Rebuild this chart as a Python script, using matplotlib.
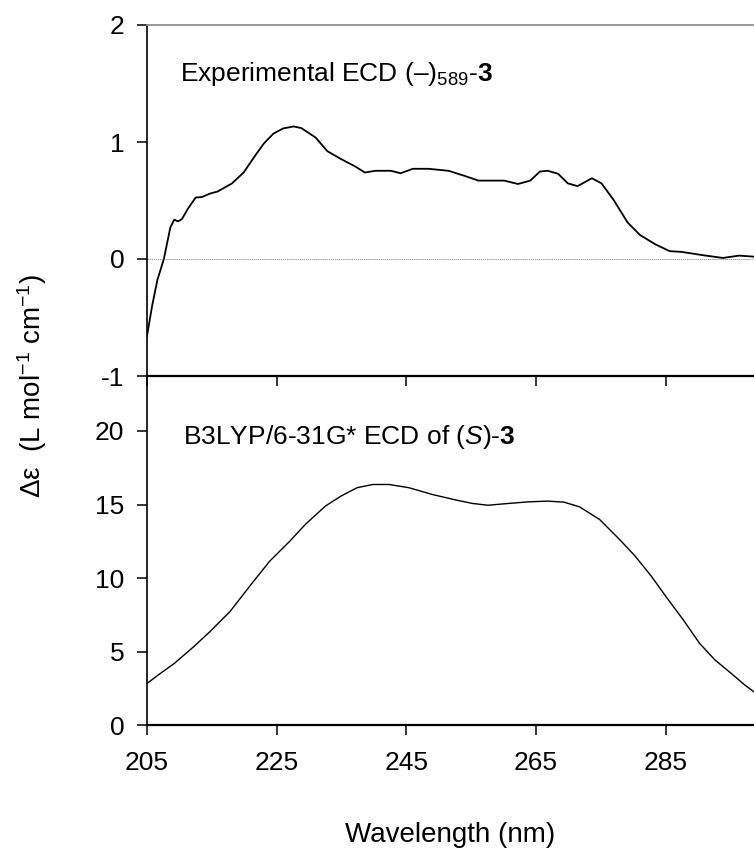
import matplotlib
matplotlib.use("Agg")
import matplotlib.pyplot as plt

plt.rcParams['font.family'] = ['Liberation Sans', 'DejaVu Sans']
plt.rcParams['mathtext.fontset'] = 'custom'
plt.rcParams['mathtext.rm'] = 'Liberation Sans'
plt.rcParams['mathtext.it'] = 'Liberation Sans:italic'
plt.rcParams['mathtext.bf'] = 'Liberation Sans:bold'
plt.rcParams['axes.unicode_minus'] = False

# experimental ECD (top panel)
exp_nm = [205.0, 205.8, 206.6, 207.6, 208.6, 209.2, 209.8, 210.4, 211.3, 212.5,
          213.5, 214.7, 215.9, 218.1, 219.9, 221.8, 223.0, 224.5, 226.0, 227.6,
          228.8, 231.0, 232.8, 234.9, 237.1, 238.6, 240.2, 242.6, 244.1, 246.0,
          248.4, 251.5, 254.0, 256.1, 260.1, 262.2, 264.1, 265.6, 266.8, 268.4,
          269.9, 271.4, 273.6, 275.1, 277.0, 279.1, 281.0, 283.4, 285.6, 287.4,
          290.8, 293.8, 296.3, 298.6]
exp_de = [-0.658, -0.397, -0.180, 0.0, 0.270, 0.336, 0.322, 0.342, 0.429, 0.525,
          0.530, 0.559, 0.577, 0.646, 0.739, 0.893, 0.986, 1.072, 1.116, 1.133,
          1.119, 1.038, 0.922, 0.855, 0.791, 0.739, 0.754, 0.754, 0.733, 0.771,
          0.771, 0.754, 0.710, 0.670, 0.670, 0.641, 0.670, 0.748, 0.754, 0.728,
          0.646, 0.623, 0.690, 0.646, 0.501, 0.313, 0.206, 0.125, 0.067, 0.061,
          0.032, 0.009, 0.029, 0.020]

# B3LYP/6-31G* calculated ECD (bottom panel)
calc_nm = [205.0, 206.7, 209.2, 212.2, 214.7, 217.8, 220.8, 223.9, 227.0, 229.4,
           232.5, 234.9, 237.4, 239.8, 242.3, 245.4, 249.0, 252.7, 255.2, 257.6,
           260.7, 263.8, 266.8, 269.3, 271.7, 274.8, 277.9, 280.3, 282.8, 285.2,
           287.7, 290.2, 292.6, 295.1, 297.2, 298.6]
calc_de = [2.84, 3.41, 4.20, 5.34, 6.36, 7.73, 9.43, 11.14, 12.50, 13.64,
           14.89, 15.57, 16.14, 16.36, 16.36, 16.14, 15.68, 15.30, 15.07, 14.95,
           15.07, 15.18, 15.23, 15.16, 14.84, 13.98, 12.61, 11.48, 10.11, 8.64,
           7.16, 5.57, 4.43, 3.52, 2.73, 2.27]

x_ticks = [205, 225, 245, 265, 285]
top_yticks = [-1, 0, 1, 2]
bot_yticks = [0, 5, 10, 15, 20]

W, H = 754, 849
fig = plt.figure(figsize=(W / 100, H / 100), dpi=100)
left = 147 / W
ax1 = fig.add_axes([left, 1 - 376 / H, 1 - left, (376 - 25) / H])
ax2 = fig.add_axes([left, 1 - 725.3 / H, 1 - left, (725.3 - 376) / H])

for ax in (ax1, ax2):
    ax.set_xlim(205, 298.6)
    ax.set_xticks(x_ticks)
    ax.spines['right'].set_visible(False)
    ax.spines['left'].set_linewidth(1.2)
    ax.spines['bottom'].set_linewidth(1.6)
    ax.tick_params(direction='out', length=7.2, width=1.1, labelsize=19)
    ax.tick_params(axis='y', pad=9)
    ax.tick_params(axis='x', pad=11)
    ax.patch.set_alpha(0)

ax1.plot(exp_nm, exp_de, color='black', lw=1.3, solid_joinstyle='round')
ax1.axhline(0, color='#808080', lw=0.6, ls=(0, (1.5, 1)))
ax1.set_ylim(-1, 2)
ax1.set_yticks(top_yticks)
ax1.tick_params(axis='x', labelbottom=False)
ax1.spines['top'].set_color('#8c8c8c')
ax1.spines['top'].set_linewidth(1.3)
ax1.text(0.054, 0.841, r'Experimental ECD (–)$_{589}$-$\mathbf{3}$',
         transform=ax1.transAxes, fontsize=19, ha='left', va='baseline')

ax2.plot(calc_nm, calc_de, color='black', lw=1.0)
ax2.set_ylim(0, 23.73)
ax2.set_yticks(bot_yticks)
ax2.spines['top'].set_visible(False)
ax2.text(0.060, 0.805, r'B3LYP/6-31G* ECD of ($\mathit{S}$)-$\mathbf{3}$',
         transform=ax2.transAxes, fontsize=19, ha='left', va='baseline')
ax2.set_xlabel('Wavelength (nm)', fontsize=20, labelpad=34)

fig.text(32 / W, 1 - 386 / H, r'Δε  (L mol$^{\mathrm{-1}}$ cm$^{\mathrm{-1}}$)',
         rotation=90, fontsize=20, ha='center', va='center')

fig.savefig('out.png', dpi=100)
